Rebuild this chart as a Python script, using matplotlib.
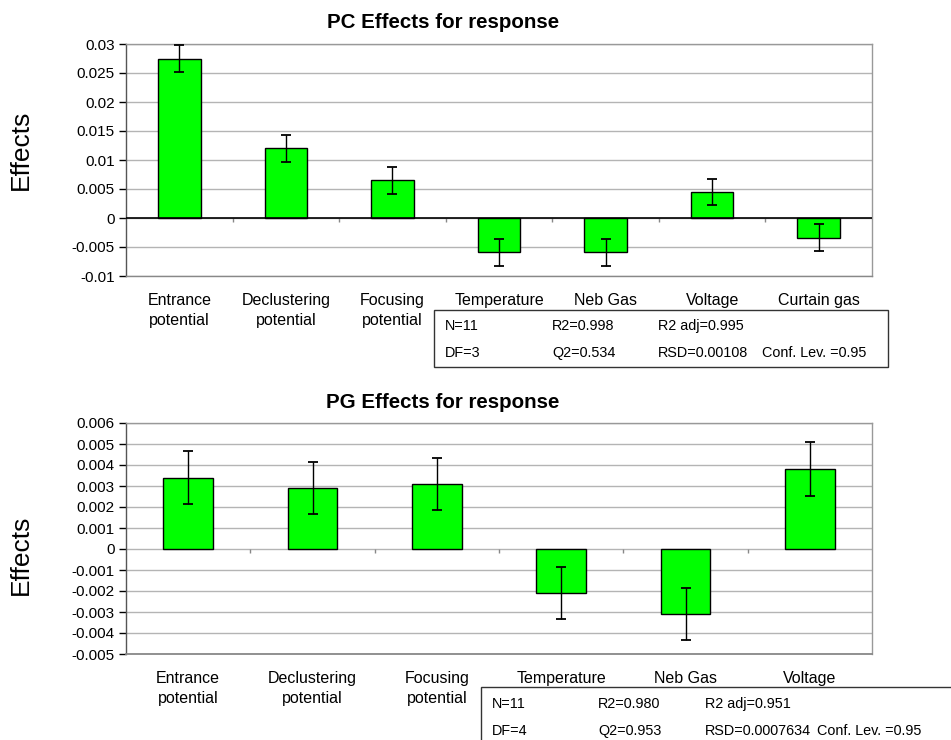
import matplotlib
matplotlib.use("Agg")
import matplotlib.pyplot as plt
import numpy as np

plt.rcParams['font.family'] = ['Liberation Sans', 'DejaVu Sans']

# ---------------- data ----------------
pc_categories = ["Entrance\npotential", "Declustering\npotential", "Focusing\npotential",
                 "Temperature", "Neb Gas", "Voltage", "Curtain gas"]
pc_effects = [0.0275, 0.0120, 0.0065, -0.0059, -0.0059, 0.0045, -0.0034]
pc_errors = [0.0023, 0.0023, 0.0023, 0.0023, 0.0023, 0.0022, 0.0023]
pc_yticks = [-0.01, -0.005, 0, 0.005, 0.01, 0.015, 0.02, 0.025, 0.03]
pc_yticklabels = ["-0.01", "-0.005", "0", "0.005", "0.01", "0.015", "0.02", "0.025", "0.03"]
pc_title = "PC Effects for response"
pc_stats = [["N=11", "R2=0.998", "R2 adj=0.995", ""],
            ["DF=3", "Q2=0.534", "RSD=0.00108", "Conf. Lev. =0.95"]]

pg_categories = ["Entrance\npotential", "Declustering\npotential", "Focusing\npotential",
                 "Temperature", "Neb Gas", "Voltage"]
pg_effects = [0.0034, 0.0029, 0.0031, -0.0021, -0.0031, 0.0038]
pg_errors = [0.00125, 0.00125, 0.00125, 0.00125, 0.00125, 0.00128]
pg_yticks = [-0.005, -0.004, -0.003, -0.002, -0.001, 0, 0.001, 0.002, 0.003, 0.004, 0.005, 0.006]
pg_yticklabels = ["-0.005", "-0.004", "-0.003", "-0.002", "-0.001", "0",
                  "0.001", "0.002", "0.003", "0.004", "0.005", "0.006"]
pg_title = "PG Effects for response"
pg_stats = [["N=11", "R2=0.980", "R2 adj=0.951", ""],
            ["DF=4", "Q2=0.953", "RSD=0.0007634", "Conf. Lev. =0.95"]]

W, H = 951, 740
fig = plt.figure(figsize=(W / 100, H / 100), dpi=100)


def px2fig(x, y):
    return x / W, 1 - y / H


def draw_panel(rect, cats, vals, errs, yticks, yticklabels, title, zero_line, title_y, ylabel_y):
    ax = fig.add_axes(rect)
    n = len(cats)
    x = np.arange(n)
    ax.bar(x, vals, width=0.4, color="#00FF00", edgecolor="black", linewidth=1.0, zorder=3)
    ax.errorbar(x, vals, yerr=errs, fmt="none", ecolor="black", elinewidth=1.0,
                capsize=3.6, capthick=1.3, zorder=4)
    ax.set_xlim(-0.5, n - 0.5)
    ax.set_ylim(yticks[0], yticks[-1])
    ax.set_yticks(yticks)
    ax.set_yticklabels(yticklabels, fontsize=11)
    ax.tick_params(axis="y", length=5, width=1, color="black", pad=3)
    ax.yaxis.grid(True, color="#b4b4b4", linewidth=1.0, zorder=0)
    ax.set_xticks(x)
    ax.set_xticklabels(cats, fontsize=11.5, linespacing=1.4, va="top")
    ax.tick_params(axis="x", length=0, pad=12.5)
    for s in ["top", "right"]:
        ax.spines[s].set_color("#999999")
        ax.spines[s].set_linewidth(1.0)
    ax.spines["left"].set_color("#555555")
    ax.spines["left"].set_linewidth(1.0)
    ax.spines["bottom"].set_color("#888888")
    ax.spines["bottom"].set_linewidth(1.3 if not zero_line else 1.0)
    if zero_line:
        ax.axhline(0, color="black", linewidth=1.2, zorder=3.5)
    # category boundary ticks below zero line
    span = yticks[-1] - yticks[0]
    for b in np.arange(0.5, n - 0.5, 1.0):
        ax.plot([b, b], [0, -span * 0.018], color="#888888", linewidth=1.0, zorder=3,
                solid_capstyle="butt")
    fx, fy = px2fig(443, title_y)
    fig.text(fx, fy, title, ha="center", va="center", fontsize=14.8, fontweight="bold")
    fx, fy = px2fig(21, ylabel_y)
    fig.text(fx, fy, "Effects", ha="center", va="center", rotation=90, fontsize=19)
    return ax


def draw_stats(box_x0, box_y0, box_x1, box_y1, rows, col_x, row_y):
    x0, y1 = px2fig(box_x0, box_y0)
    x1, y0 = px2fig(box_x1, box_y1)
    rect = plt.Rectangle((x0, y0), x1 - x0, y1 - y0, transform=fig.transFigure,
                         fill=True, facecolor="white", edgecolor="#333333", linewidth=1.0)
    fig.add_artist(rect)
    for r, ry in zip(rows, row_y):
        for t, cx in zip(r, col_x):
            if t:
                fx, fy = px2fig(cx, ry)
                fig.text(fx, fy, t, ha="left", va="center", fontsize=10.4)


# top panel
l, t = px2fig(126, 44)
r, b = px2fig(872, 276)
draw_panel([l, b, r - l, t - b], pc_categories, pc_effects, pc_errors, pc_yticks,
           pc_yticklabels, pc_title, True, 23, 150)
draw_stats(434, 310, 888, 367, pc_stats, [445, 552, 658, 762], [326, 353])

# bottom panel
l, t = px2fig(126, 423)
r, b = px2fig(872, 654)
draw_panel([l, b, r - l, t - b], pg_categories, pg_effects, pg_errors, pg_yticks,
           pg_yticklabels, pg_title, False, 403, 555)
draw_stats(481, 687, 960, 750, pg_stats, [492, 598, 705, 817], [704, 731])

fig.savefig("out.png", dpi=100)
